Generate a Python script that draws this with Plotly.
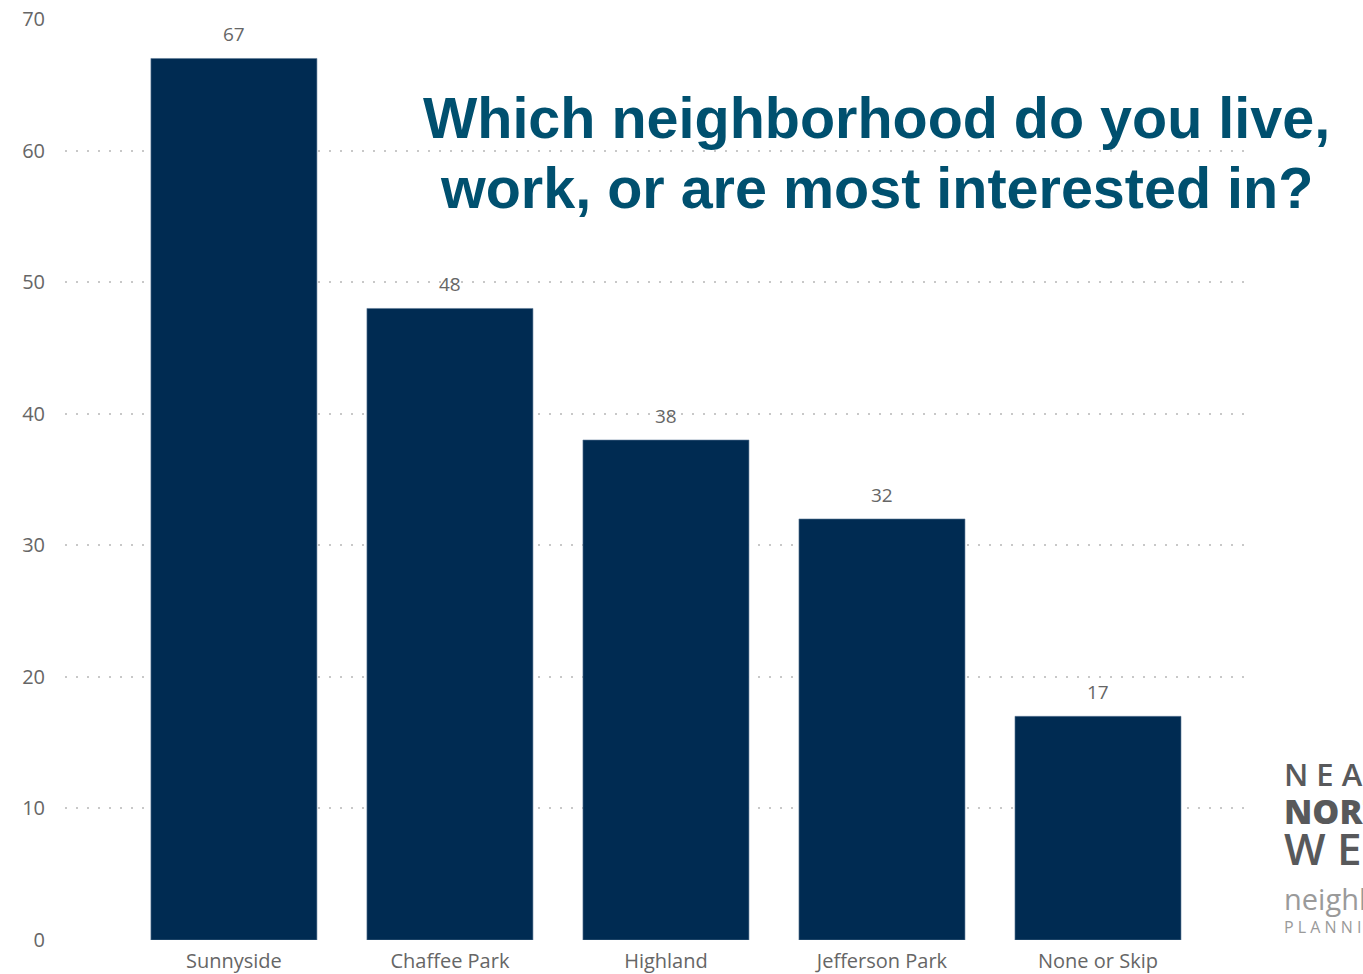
import plotly.graph_objects as go

# Survey responses by neighborhood
neighborhoods = ["Sunnyside", "Chaffee Park", "Highland", "Jefferson Park", "None or Skip"]
responses = [67, 48, 38, 32, 17]
y_ticks = [0, 10, 20, 30, 40, 50, 60, 70]

BAR_COLOR = "#002B52"
LABEL_GREY = "#666666"
TITLE_COLOR = "#00506F"
FONT = "Open Sans"

fig = go.Figure(
    go.Bar(
        x=neighborhoods,
        y=responses,
        marker=dict(color=BAR_COLOR, line=dict(color="#5d7896", width=0.6)),
        hoverinfo="x+y",
    )
)

# value labels above each bar
for name, val in zip(neighborhoods, responses):
    fig.add_annotation(
        x=name, y=val, text=str(val), showarrow=False,
        yanchor="bottom", yshift=9,
        font=dict(family=FONT, size=19, color=LABEL_GREY),
    )

# question heading, one annotation per line
title_lines = [
    ("Which neighborhood do you live,", 0.8925),
    ("work, or are most interested in?", 0.8160),
]
for txt, yy in title_lines:
    fig.add_annotation(
        xref="paper", yref="paper", x=0.684, y=yy,
        xanchor="center", yanchor="middle",
        text=f"<b>{txt}</b>", showarrow=False,
        font=dict(family="Liberation Sans, Arial", size=57.5, color=TITLE_COLOR),
    )

# brand mark at lower right: (text, y, size, colour, weight)
logo_lines = [
    ("N E A R", 0.1802, 31, "#58595B", 600),
    ("NORTHWEST", 0.1401, 34, "#58595B", 800),
    ("W E S T", 0.0999, 44, "#58595B", 600),
    ("neighborhood", 0.0456, 29, "#9A9A9A", 400),
    ("P L A N N I N G", 0.0141, 16, "#9A9A9A", 400),
]
for txt, yy, sz, col, wt in logo_lines:
    fig.add_annotation(
        xref="paper", yref="paper", x=1.0253, y=yy,
        xanchor="left", yanchor="middle", showarrow=False,
        text=txt,
        font=dict(family=FONT, size=sz, color=col, weight=wt),
    )

grid = dict(showgrid=True, gridcolor="#C8C8C8", gridwidth=1.5, griddash="2px,9px")

fig.update_layout(
    width=1363, height=974,
    margin=dict(l=65, r=111, t=19, b=34),
    paper_bgcolor="white", plot_bgcolor="white",
    bargap=0.2315,
    showlegend=False,
    font=dict(family=FONT, color=LABEL_GREY),
    xaxis=dict(
        range=[-0.782, 4.713], showgrid=False, zeroline=False,
        showline=False, ticks="", automargin=False,
        tickfont=dict(family=FONT, size=20, color=LABEL_GREY),
        ticklabelstandoff=7,
    ),
    yaxis=dict(
        range=[0, 70], tickvals=y_ticks, zeroline=False, showline=False,
        ticks="", automargin=False,
        tickfont=dict(family=FONT, size=20, color=LABEL_GREY),
        ticklabelstandoff=19, **grid,
    ),
)

fig.write_html("out.html")
